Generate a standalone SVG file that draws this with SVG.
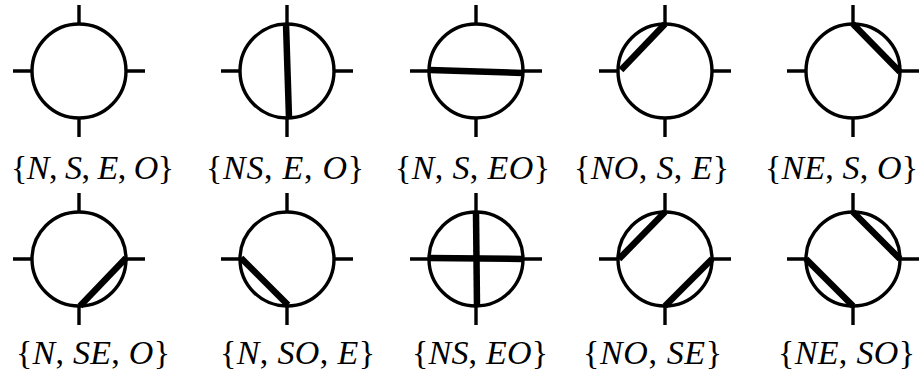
<svg xmlns="http://www.w3.org/2000/svg" width="922" height="376" viewBox="0 0 922 376">
<defs>
<style>
.ring{fill:none;stroke:#000;stroke-width:3.4}
.tick{stroke:#000;stroke-width:3.4;fill:none}
.chord{stroke:#000;stroke-width:6.5;stroke-linecap:butt;fill:none}
.lbl{font-family:"Liberation Serif","Times New Roman",serif;font-size:34px;fill:#000}
.i{font-style:italic}
</style>
<g id="sym">
<circle class="ring" cx="0" cy="0" r="47"/>
<path class="tick" d="M0,-47V-66M0,47V66M-47,0H-66M47,0H66"/>
</g>
</defs>
<g id="n1"><use href="#sym" x="79" y="71"/>
<text class="lbl" x="11" y="179" textLength="163" lengthAdjust="spacing">{<tspan class="i">N</tspan>, <tspan class="i">S</tspan>, <tspan class="i">E</tspan>, <tspan class="i">O</tspan>}</text></g>
<g id="n2"><use href="#sym" x="287" y="71"/>
<line class="chord" x1="286" y1="24" x2="289" y2="118"/>
<text class="lbl" x="206" y="179" textLength="158" lengthAdjust="spacing">{<tspan class="i">NS</tspan>, <tspan class="i">E</tspan>, <tspan class="i">O</tspan>}</text></g>
<g id="n3"><use href="#sym" x="476" y="71"/>
<line class="chord" x1="430" y1="70" x2="523" y2="73"/>
<text class="lbl" x="395" y="179" textLength="155" lengthAdjust="spacing">{<tspan class="i">N</tspan>, <tspan class="i">S</tspan>, <tspan class="i">EO</tspan>}</text></g>
<g id="n4"><use href="#sym" x="665" y="71"/>
<line class="chord" x1="621" y1="70" x2="665" y2="24"/>
<text class="lbl" x="574" y="179" textLength="155" lengthAdjust="spacing">{<tspan class="i">NO</tspan>, <tspan class="i">S</tspan>, <tspan class="i">E</tspan>}</text></g>
<g id="n5"><use href="#sym" x="853" y="71"/>
<line class="chord" x1="853" y1="24" x2="900" y2="72"/>
<text class="lbl" x="765" y="179" textLength="153" lengthAdjust="spacing">{<tspan class="i">NE</tspan>, <tspan class="i">S</tspan>, <tspan class="i">O</tspan>}</text></g>
<g id="n6"><use href="#sym" x="79" y="259"/>
<line class="chord" x1="126" y1="258" x2="80" y2="306"/>
<text class="lbl" x="16" y="364" textLength="154" lengthAdjust="spacing">{<tspan class="i">N</tspan>, <tspan class="i">SE</tspan>, <tspan class="i">O</tspan>}</text></g>
<g id="n7"><use href="#sym" x="287" y="259"/>
<line class="chord" x1="241" y1="258" x2="288" y2="305"/>
<text class="lbl" x="220" y="364" textLength="155" lengthAdjust="spacing">{<tspan class="i">N</tspan>, <tspan class="i">SO</tspan>, <tspan class="i">E</tspan>}</text></g>
<g id="n8"><use href="#sym" x="476" y="259"/>
<line class="chord" x1="476" y1="212" x2="477" y2="307"/>
<line class="chord" x1="429" y1="258" x2="523" y2="259"/>
<text class="lbl" x="412" y="364" textLength="136" lengthAdjust="spacing">{<tspan class="i">NS</tspan>, <tspan class="i">EO</tspan>}</text></g>
<g id="n9"><use href="#sym" x="665" y="259"/>
<line class="chord" x1="619" y1="259" x2="665" y2="212"/>
<line class="chord" x1="712" y1="259" x2="665" y2="306"/>
<text class="lbl" x="583" y="364" textLength="139" lengthAdjust="spacing">{<tspan class="i">NO</tspan>, <tspan class="i">SE</tspan>}</text></g>
<g id="n10"><use href="#sym" x="853" y="259"/>
<line class="chord" x1="853" y1="212" x2="900" y2="259"/>
<line class="chord" x1="806" y1="259" x2="853" y2="306"/>
<text class="lbl" x="778" y="364" textLength="137" lengthAdjust="spacing">{<tspan class="i">NE</tspan>, <tspan class="i">SO</tspan>}</text></g>
<g id="connectors"/>
</svg>
